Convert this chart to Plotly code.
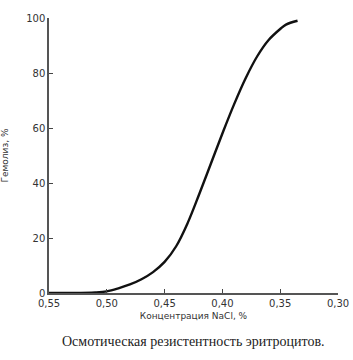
import plotly.graph_objects as go

nacl = [0.55, 0.53, 0.51, 0.50, 0.49, 0.48, 0.47, 0.46, 0.45, 0.44, 0.43,
        0.42, 0.41, 0.40, 0.39, 0.38, 0.37, 0.36, 0.35, 0.345, 0.335]
hemolysis = [0, 0, 0.2, 0.6, 1.7, 3.1, 5, 7.6, 11.3, 17, 25.5,
             36, 47, 58, 68.5, 78, 86, 92, 96, 97.6, 99]

x_ticks = [0.55, 0.50, 0.45, 0.40, 0.35, 0.30]
y_ticks = [0, 20, 40, 60, 80, 100]

fig = go.Figure()
fig.add_trace(go.Scatter(x=nacl, y=hemolysis, mode="lines",
                         line=dict(color="#111", width=2.4, shape="spline", smoothing=1.0),
                         showlegend=False, hoverinfo="skip"))

axis_font = dict(family="DejaVu Sans", size=10, color="#333")
fig.update_layout(
    width=353, height=360,
    margin=dict(l=49, r=15, t=18, b=67),
    paper_bgcolor="white", plot_bgcolor="white",
    separators=", ",
    font=axis_font,
    xaxis=dict(range=[0.55, 0.30], tickvals=x_ticks, tickformat=".2f",
               ticks="inside", ticklen=4, tickcolor="#444", tickwidth=1.2,
               showline=True, linecolor="#555", linewidth=1.5,
               showgrid=False, zeroline=False, automargin=False,
               title=dict(text="Концентрация NaCl, %", font=dict(size=9, color="#333"), standoff=5),
               tickfont=dict(size=10)),
    yaxis=dict(range=[0, 100], tickvals=y_ticks,
               ticks="inside", ticklen=4, tickcolor="#444", tickwidth=1.2,
               showline=True, linecolor="#555", linewidth=1.5,
               showgrid=False, zeroline=False, automargin=False,
               title=dict(text="Гемолиз, %", font=dict(size=9, color="#333"), standoff=16),
               tickfont=dict(size=10)),
    annotations=[dict(text="Осмотическая резистентность эритроцитов.",
                      x=0.5, y=-0.178, xref="paper", yref="paper",
                      xanchor="center", yanchor="middle", showarrow=False,
                      font=dict(family="Liberation Serif", size=14, color="#222"))],
)

fig.write_html("out.html", config={"displayModeBar": False},
               post_script="document.body.style.margin='0';")
